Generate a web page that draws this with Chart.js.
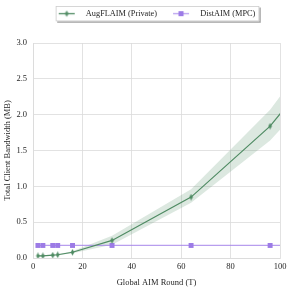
<!DOCTYPE html>
<html>
<head>
<meta charset="utf-8">
<script src="https://cdn.jsdelivr.net/npm/chart.js@4/dist/chart.umd.min.js"></script>
<style>
  html, body { margin: 0; padding: 0; background: #fff; }
  #wrap { width: 291px; height: 288px; }
</style>
</head>
<body>
<div id="wrap"><canvas id="c" width="291" height="288"></canvas></div>
<script>
// ---- data ----
const rounds      = [2, 4, 8, 10, 16, 32, 64, 96, 128];
const augFlaim    = [0.03, 0.03, 0.04, 0.045, 0.08, 0.245, 0.85, 1.84, 3.2];
const augFlaimLow = [0.025, 0.025, 0.034, 0.038, 0.065, 0.185, 0.77, 1.64, 2.85];
const augFlaimHigh= [0.035, 0.035, 0.046, 0.052, 0.095, 0.31, 0.96, 2.07, 3.55];
const distAim     = [0.175, 0.175, 0.175, 0.175, 0.175, 0.175, 0.175, 0.175, 0.175];
const seriesNames = ['AugFLAIM (Private)', 'DistAIM (MPC)'];
const xTicks = [0, 20, 40, 60, 80, 100];
const yTicks = [0.0, 0.5, 1.0, 1.5, 2.0, 2.5, 3.0];

const GREEN = '#4f8b63';
const PURPLE_LINE = 'rgba(160,125,232,0.75)';
const PURPLE = '#9c7be6';
const GRID = '#dadada';
const FONT = "'Liberation Serif', 'Times New Roman', serif";

function pts(ys) { return rounds.map((r, i) => ({ x: r, y: ys[i] })); }

function diamondCanvas() {
  const c = document.createElement('canvas');
  c.width = 5; c.height = 7;
  const g = c.getContext('2d');
  g.fillStyle = GREEN;
  g.beginPath();
  g.moveTo(2.5, 0.3); g.lineTo(4.3, 3.5); g.lineTo(2.5, 6.7); g.lineTo(0.7, 3.5);
  g.closePath(); g.fill();
  return c;
}
function legendCanvas(kind) {
  const c = document.createElement('canvas');
  c.width = 24; c.height = 9;
  const g = c.getContext('2d');
  g.strokeStyle = kind === 'g' ? GREEN : PURPLE_LINE;
  g.lineWidth = 1.3;
  g.beginPath(); g.moveTo(1, 4.5); g.lineTo(17, 4.5); g.stroke();
  if (kind === 'g') {
    g.drawImage(diamondCanvas(), 9 - 2.5, 4.5 - 3.5);
  } else {
    g.fillStyle = PURPLE;
    g.fillRect(9 - 2.5, 2, 5, 5);
  }
  return c;
}
const diamond = diamondCanvas();
const legG = legendCanvas('g');
const legP = legendCanvas('p');

// centre the legend over the plot area (like an axes-anchored legend)
const legendCenter = {
  id: 'legendCenter',
  afterLayout(chart) {
    const lg = chart.legend, ca = chart.chartArea;
    if (!lg || !ca) return;
    const shift = (ca.left + ca.right) / 2 - (lg.left + lg.right) / 2;
    lg.left += shift; lg.right += shift;
  }
};

const legendFrame = {
  id: 'legendFrame',
  beforeDraw(chart) {
    const lg = chart.legend;
    if (!lg || !lg.legendHitBoxes || !lg.legendHitBoxes.length) return;
    const hb = lg.legendHitBoxes;
    const l = Math.min(...hb.map(h => h.left)) - 2;
    const r = Math.max(...hb.map(h => h.left + h.width)) + 4;
    const t = Math.min(...hb.map(h => h.top)) - 3.5;
    const b = Math.max(...hb.map(h => h.top + h.height)) + 3.5;
    const ctx = chart.ctx;
    ctx.save();
    ctx.fillStyle = 'rgba(0,0,0,0.35)';
    ctx.fillRect(l + 1.5, t + 1.5, r - l, b - t);
    ctx.fillStyle = '#fff';
    ctx.fillRect(l, t, r - l, b - t);
    ctx.strokeStyle = '#cccccc';
    ctx.lineWidth = 0.8;
    ctx.strokeRect(l + 0.4, t + 0.4, r - l - 0.8, b - t - 0.8);
    ctx.restore();
  }
};

const chart = new Chart(document.getElementById('c'), {
  type: 'line',
  data: {
    datasets: [
      {
        label: seriesNames[0], data: pts(augFlaim),
        borderColor: GREEN, backgroundColor: GREEN, borderWidth: 1.2,
        pointStyle: diamond, pointRadius: 2, fill: false, order: 0
      },
      {
        label: seriesNames[1], data: pts(distAim),
        borderColor: PURPLE_LINE, backgroundColor: PURPLE, borderWidth: 1.3,
        pointStyle: 'rect', pointRadius: 3.5, pointBorderWidth: 0,
        pointBackgroundColor: PURPLE, fill: false, order: 1
      },
      {
        label: 'low', data: pts(augFlaimLow),
        borderWidth: 0, pointRadius: 0, borderColor: 'rgba(0,0,0,0)', fill: false, order: 3
      },
      {
        label: 'high', data: pts(augFlaimHigh),
        borderWidth: 0, pointRadius: 0, borderColor: 'rgba(0,0,0,0)',
        backgroundColor: 'rgba(79,139,99,0.2)', fill: 2, order: 2
      }
    ]
  },
  options: {
    responsive: false,
    animation: false,
    layout: { padding: { left: 0, right: 11, top: -5.5, bottom: 0 } },
    plugins: {
      tooltip: { enabled: false },
      legend: {
        display: true,
        position: 'top',
        labels: {
          usePointStyle: true,
          pointStyleWidth: 24,
          boxHeight: 8,
          padding: 15,
          color: '#262626',
          font: { family: FONT, size: 8.3 },
          generateLabels: (ch) => seriesNames.map((n, i) => ({
            text: n, datasetIndex: i, pointStyle: i === 0 ? legG : legP,
            fillStyle: 'rgba(0,0,0,0)', strokeStyle: 'rgba(0,0,0,0)', lineWidth: 0,
            fontColor: '#262626'
          }))
        }
      }
    },
    scales: {
      x: {
        type: 'linear', min: 0, max: 100,
        afterBuildTicks: (s) => { s.ticks = xTicks.map(v => ({ value: v })); },
        afterFit: (s) => { s.height = 30; },
        grid: { color: GRID, lineWidth: 0.8, drawTicks: false },
        border: { color: GRID, width: 0.8 },
        ticks: { padding: 4, color: '#262626', font: { family: FONT, size: 8.5 } },
        title: {
          display: true, text: 'Global AIM Round (T)', color: '#262626',
          font: { family: FONT, size: 8.5 }, padding: { top: 0, bottom: 0 }
        }
      },
      y: {
        type: 'linear', min: 0, max: 3,
        afterBuildTicks: (s) => { s.ticks = yTicks.map(v => ({ value: v })); },
        afterFit: (s) => { s.width = 33; },
        grid: { color: GRID, lineWidth: 0.8, drawTicks: false },
        border: { color: GRID, width: 0.8 },
        ticks: {
          padding: 6, color: '#262626', font: { family: FONT, size: 8.5 },
          callback: (v) => Number(v).toFixed(1)
        },
        title: {
          display: true, text: 'Total Client Bandwidth (MB)', color: '#262626',
          font: { family: FONT, size: 8.5 }, padding: { top: 3, bottom: 0 }
        }
      }
    }
  },
  plugins: [legendCenter, legendFrame]
});

// give the legend a fixed band above the plot area
const baseFit = chart.legend.fit;
chart.legend.fit = function () { baseFit.call(this); this.height = 48.5; };
chart.update();
</script>
</body>
</html>
